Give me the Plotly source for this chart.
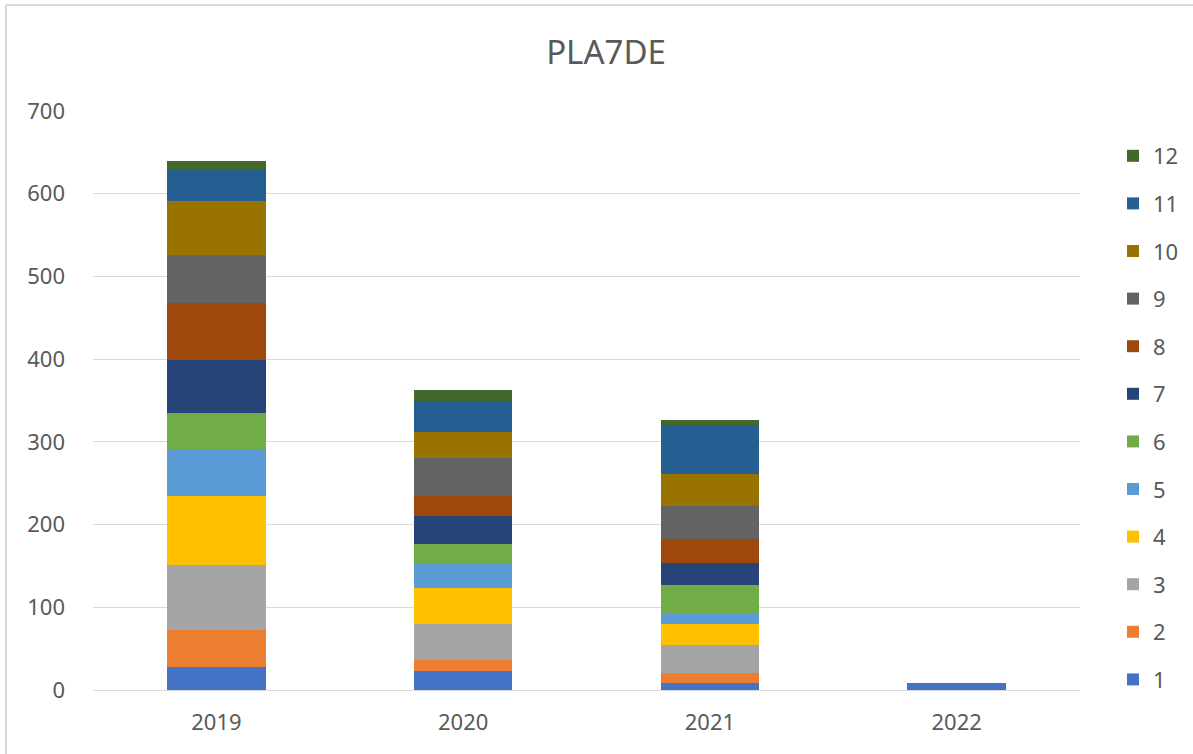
import plotly.graph_objects as go

years = ["2019", "2020", "2021", "2022"]
series_names = ["1", "2", "3", "4", "5", "6", "7", "8", "9", "10", "11", "12"]
s1 = [28, 23, 8, 8]
s2 = [44, 13, 13, 0]
s3 = [79, 44, 33, 0]
s4 = [84, 43, 26, 0]
s5 = [55, 29, 12, 0]
s6 = [45, 25, 35, 0]
s7 = [64, 33, 26, 0]
s8 = [69, 25, 30, 0]
s9 = [58, 46, 40, 0]
s10 = [65, 31, 38, 0]
s11 = [38, 37, 59, 0]
s12 = [11, 14, 6, 0]
series_values = [s1, s2, s3, s4, s5, s6, s7, s8, s9, s10, s11, s12]
colors = ["#4472C4", "#ED7D31", "#A5A5A5", "#FFC000", "#5B9BD5", "#70AD47",
          "#264478", "#9E480E", "#636363", "#997300", "#255E91", "#43682B"]

fig = go.Figure()
for i, (name, vals, col) in enumerate(zip(series_names, series_values, colors)):
    fig.add_trace(go.Bar(
        x=years, y=vals, name=name, legendgroup=name, legendrank=1000 - i,
        marker=dict(color=col, line=dict(width=0)),
    ))

font_family = "Noto Sans"
W, H = 1193, 754
L, T, R, B = 93, 111, 113, 64
PW, PH = W - L - R, H - T - B

fig.update_layout(
    barmode="stack",
    bargap=0.6,
    width=W, height=H,
    paper_bgcolor="white", plot_bgcolor="white",
    margin=dict(l=L, r=R, t=T, b=B, autoexpand=False),
    title=dict(text="PLA7DE", x=606 / W, xanchor="center", y=1 - 52 / H, yanchor="middle",
               font=dict(family=font_family, size=33, color="#595959")),
    font=dict(family=font_family, size=22, color="#595959"),
    legend=dict(traceorder="grouped", x=(1113 - L) / PW, xanchor="left",
                y=1.0 - (135 - T) / PH, yanchor="top", tracegroupgap=16,
                font=dict(size=22, color="#595959"), itemwidth=30),
    showlegend=True,
)
fig.update_yaxes(range=[0, 700], dtick=100, showgrid=True, gridcolor="#D9D9D9", gridwidth=1,
                 zeroline=True, zerolinecolor="#D9D9D9", zerolinewidth=1,
                 tickfont=dict(size=22, color="#595959"), ticks="", showline=False,
                 ticklabelstandoff=27)
fig.update_xaxes(showgrid=False, showline=False, ticks="",
                 tickfont=dict(size=22, color="#595959"), ticklabelstandoff=17)
# outer chart border (left and top edges visible)
fig.add_shape(type="line", xref="paper", yref="paper",
              x0=(6 - L) / PW, x1=(W + 5 - L) / PW, y0=(H - B - 5) / PH, y1=(H - B - 5) / PH,
              line=dict(color="#D9D9D9", width=2), layer="below")
fig.add_shape(type="line", xref="paper", yref="paper",
              x0=(6 - L) / PW, x1=(6 - L) / PW, y0=(H - B - H - 5) / PH, y1=(H - B - 5) / PH,
              line=dict(color="#D9D9D9", width=2), layer="below")

fig.write_html("out.html", config={"displayModeBar": False},
               post_script="document.body.style.margin='0';")
